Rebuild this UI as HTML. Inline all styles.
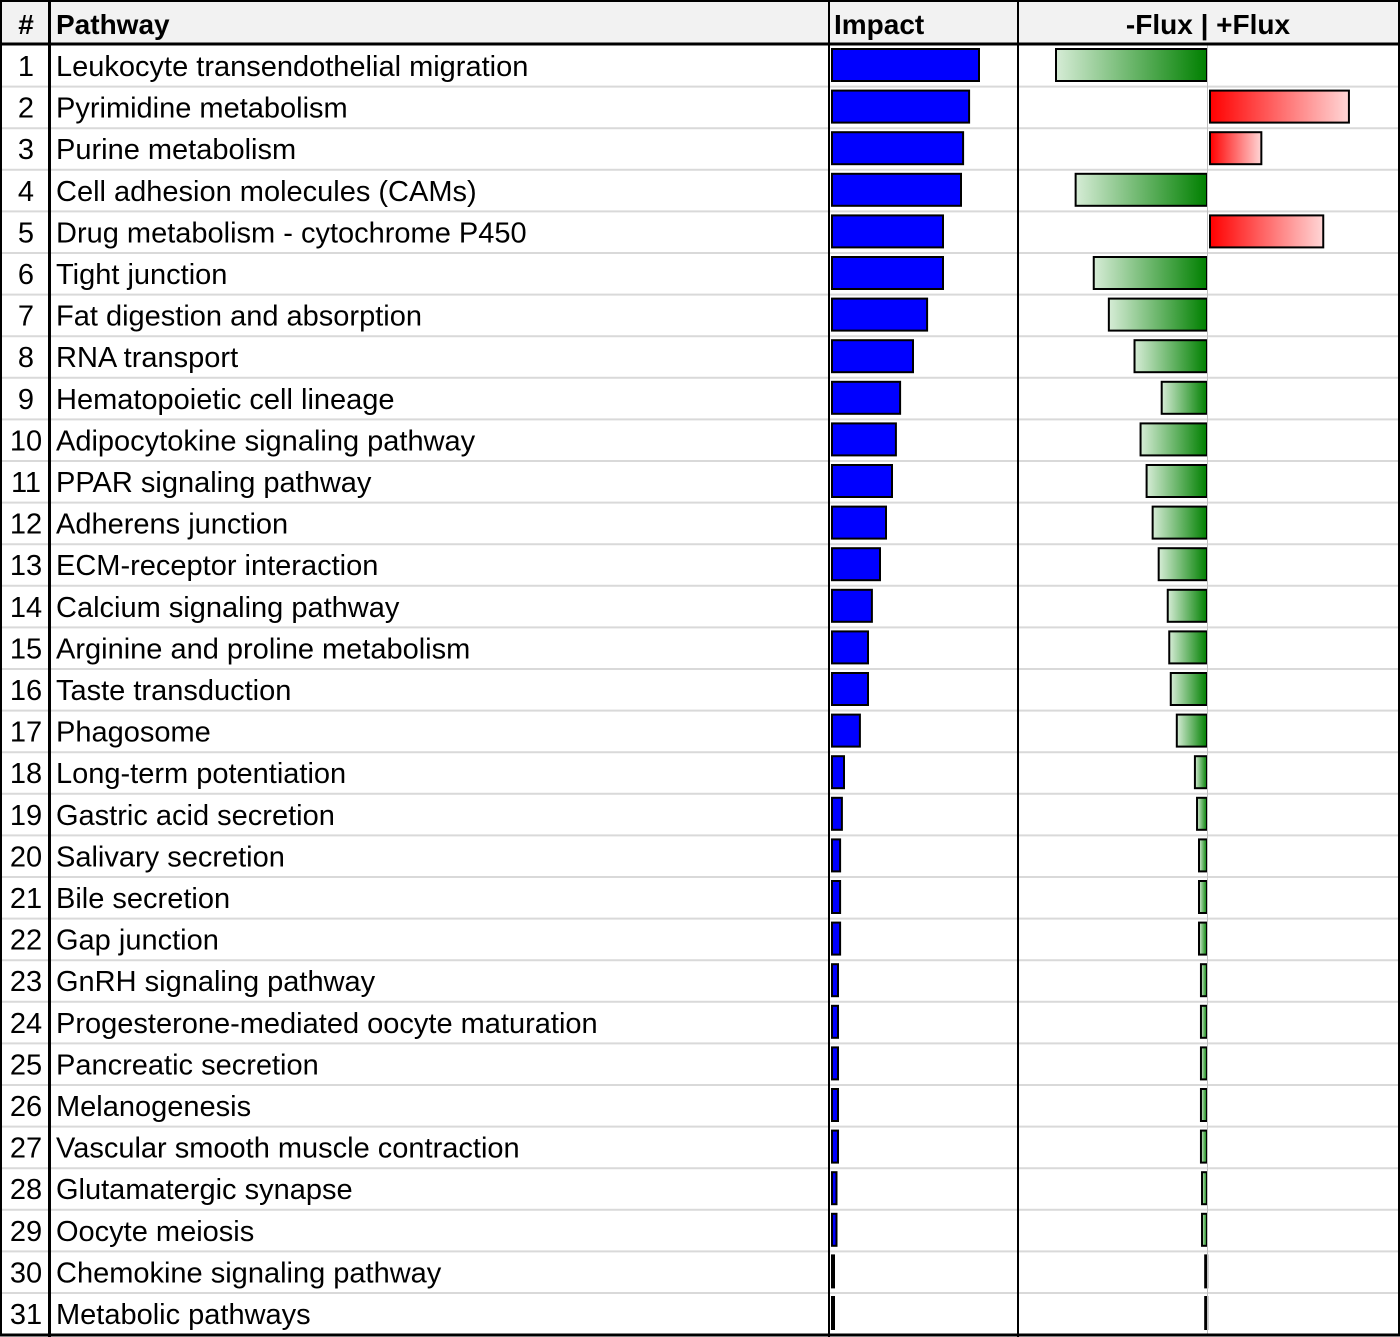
<!DOCTYPE html>
<html><head><meta charset="utf-8"><style>
html,body{margin:0;padding:0;background:#fff;}
svg{display:block;font-family:"Liberation Sans",sans-serif;}
</style></head><body>
<svg id="chart" width="1400" height="1337" viewBox="0 0 1400 1337" xmlns="http://www.w3.org/2000/svg">
<defs>
<linearGradient id="gGreen" x1="0" x2="1" y1="0" y2="0"><stop offset="0" stop-color="#d6ecd6"/><stop offset="1" stop-color="#008000"/></linearGradient>
<linearGradient id="gRed" x1="0" x2="1" y1="0" y2="0"><stop offset="0" stop-color="#ff0000"/><stop offset="1" stop-color="#ffd6d6"/></linearGradient>
</defs>
<rect x="0" y="0" width="1400" height="44" fill="#f2f2f2"/>
<g id="rows"></g>
<g id="bars"></g>
<g font-weight="bold" font-size="28" fill="#000">
<text x="26" y="34" text-anchor="middle">#</text>
<text x="56" y="34">Pathway</text>
<text x="834" y="34">Impact</text>
<text x="1208" y="34" text-anchor="middle">-Flux | +Flux</text>
</g>
<line x1="1207.5" y1="44" x2="1207.5" y2="1334" stroke="#c0c0c0" stroke-width="1"/>
<line x1="0" y1="44" x2="1400" y2="44" stroke="#000" stroke-width="3"/>
<line x1="49.5" y1="0" x2="49.5" y2="1337" stroke="#000" stroke-width="3"/>
<line x1="829" y1="0" x2="829" y2="1337" stroke="#000" stroke-width="2"/>
<line x1="1018" y1="0" x2="1018" y2="1337" stroke="#000" stroke-width="2"/>
<rect x="1" y="1" width="1398" height="1334" fill="none" stroke="#000" stroke-width="2"/>
<line x1="0" y1="1335" x2="1400" y2="1335" stroke="#000" stroke-width="3"/>
</svg>
<script>
const pathways=["Leukocyte transendothelial migration","Pyrimidine metabolism","Purine metabolism","Cell adhesion molecules (CAMs)","Drug metabolism - cytochrome P450","Tight junction","Fat digestion and absorption","RNA transport","Hematopoietic cell lineage","Adipocytokine signaling pathway","PPAR signaling pathway","Adherens junction","ECM-receptor interaction","Calcium signaling pathway","Arginine and proline metabolism","Taste transduction","Phagosome","Long-term potentiation","Gastric acid secretion","Salivary secretion","Bile secretion","Gap junction","GnRH signaling pathway","Progesterone-mediated oocyte maturation","Pancreatic secretion","Melanogenesis","Vascular smooth muscle contraction","Glutamatergic synapse","Oocyte meiosis","Chemokine signaling pathway","Metabolic pathways"];
const impact=[0.98,0.914,0.874,0.86,0.74,0.74,0.634,0.54,0.454,0.426,0.4,0.36,0.32,0.266,0.24,0.24,0.186,0.08,0.066,0.054,0.054,0.054,0.04,0.04,0.04,0.04,0.04,0.03,0.03,0.01,0.01];
const flux=[-1.0,0.92,0.34,-0.87,0.75,-0.75,-0.65,-0.48,-0.3,-0.44,-0.4,-0.36,-0.32,-0.26,-0.25,-0.24,-0.2,-0.08,-0.066,-0.053,-0.053,-0.053,-0.04,-0.04,-0.04,-0.04,-0.04,-0.033,-0.033,-0.012,-0.012];
const NS="http://www.w3.org/2000/svg";
const rowsG=document.getElementById('rows'),barsG=document.getElementById('bars');
const rowTop=i=>45+i*41.6;
const xImpact=v=>832+v*150;
const xFlux=v=>(v>0?1210:1207)+v*151;
function mk(tag,attrs,parent){const e=document.createElementNS(NS,tag);for(const k in attrs)e.setAttribute(k,attrs[k]);parent.appendChild(e);return e;}
pathways.forEach((p,i)=>{
  const t=rowTop(i),cy=t+21;
  if(i>0){const l=mk('line',{x1:0,x2:1400,y1:t,y2:t,stroke:'#d9d9d9','stroke-width':2},rowsG);
    
    }
  const n=mk('text',{x:26,y:cy+10,'text-anchor':'middle','font-size':29},rowsG);n.textContent=i+1;
  
  
  const tx=mk('text',{x:56,y:cy+10,'font-size':29},rowsG);tx.textContent=p;
  
  
  const tiny=Math.abs(flux[i])<0.02;
  const x0=832,x1=xImpact(impact[i]);
  const b=mk('rect',{x:x0,y:t+4,width:Math.max(x1-x0,2),height:32,fill:tiny?'#000':'#0000ff',stroke:'#000','stroke-width':2},barsG);
  
  
  const fa=xFlux(0),fb=xFlux(flux[i]);
  const fx=flux[i]>0?1210:Math.min(fa,fb),fw=Math.max(flux[i]>0?flux[i]*151:Math.abs(fb-fa),2);
  const f=mk('rect',{x:fx,y:t+4,width:fw,height:32,fill:tiny?'#000':(flux[i]<0?'url(#gGreen)':'url(#gRed)'),stroke:'#000','stroke-width':2},barsG);
  
  
});
</script>
</body></html>
